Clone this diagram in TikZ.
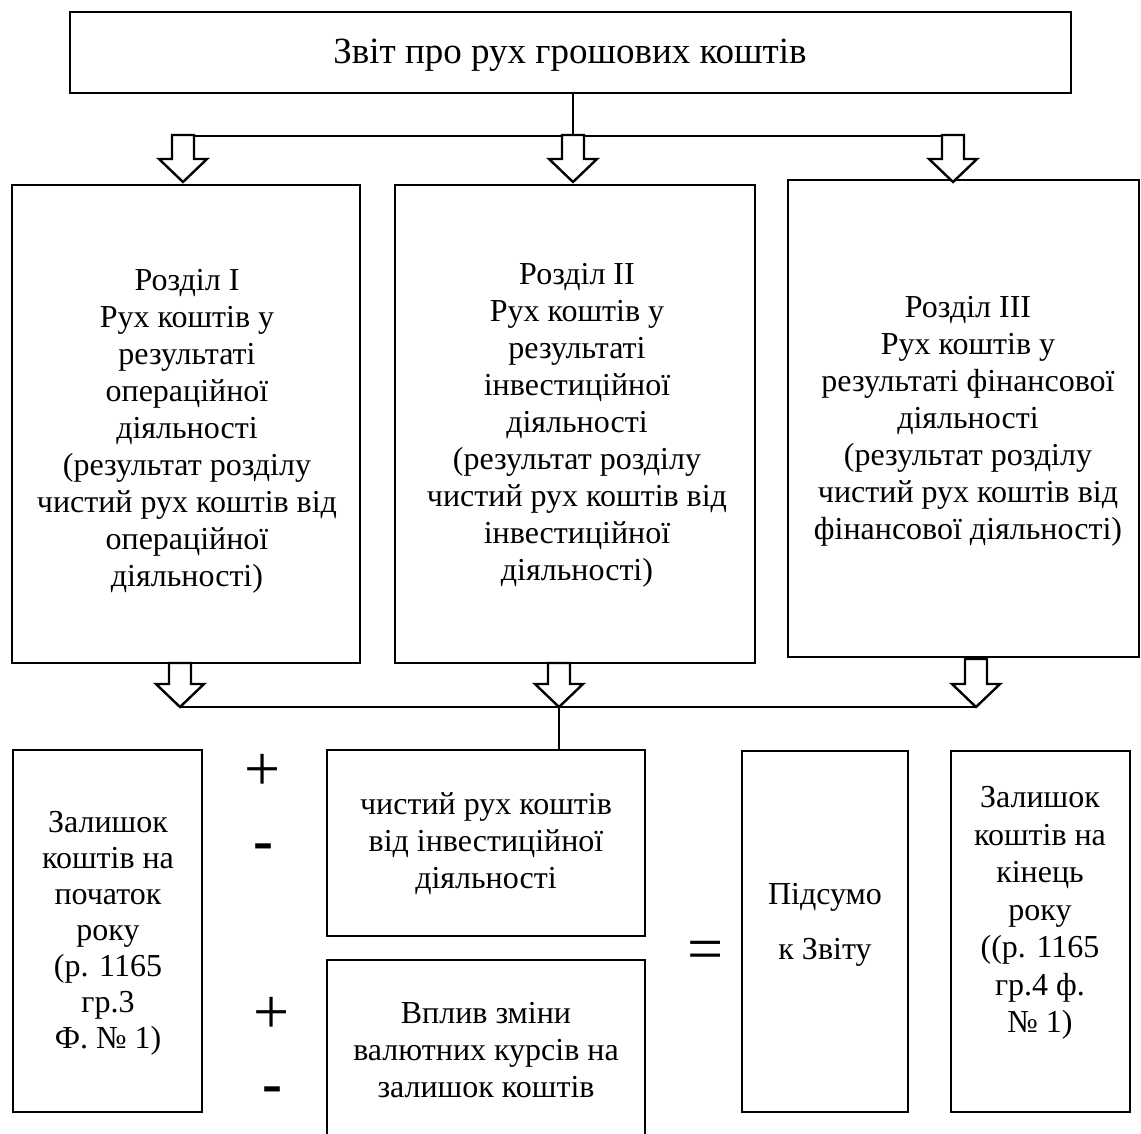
\documentclass[tikz,border=0pt]{standalone}
\usepackage{fontspec}
\setmainfont{Liberation Serif}
\begin{document}
\begin{tikzpicture}[x=1pt,y=-1pt,
  boxline/.style={line width=2.4pt},
  box/.style={draw, boxline, rectangle, inner sep=0pt},
  txt/.style={align=center, inner sep=0pt, font=\fontsize{32}{37}\selectfont},
  conn/.style={line width=2.2pt},
  arrowline/.style={line width=2.4pt, line join=miter, fill=white},
  sign/.style={inner sep=0pt, font=\fontsize{64}{64}\selectfont},
  minus/.style={inner sep=0pt, font=\fontsize{60}{60}\selectfont\bfseries},
  darrow/.pic={\draw[arrowline] (-11,-\arrlen) -- (-11,-23) -- (-24,-23) -- (0,0) -- (24,-23) -- (11,-23) -- (11,-\arrlen) -- cycle;}
]
\useasboundingbox (0,0) rectangle (1141,1133);

% boxes
\node[box, minimum width=1001pt, minimum height=81pt] (top) at (570.5,52.5) {};
\node[box, minimum width=348pt, minimum height=478pt] (s1) at (186,424) {};
\node[box, minimum width=360pt, minimum height=478pt] (s2) at (575,424) {};
\node[box, minimum width=351pt, minimum height=477pt] (s3) at (963.5,418.5) {};
\node[box, minimum width=189pt, minimum height=362pt] (bA) at (107.5,931) {};
\node[box, minimum width=318pt, minimum height=186pt] (bB) at (486,843) {};
\node[inner sep=0pt, minimum width=318pt, minimum height=190pt] (bC) at (486,1055) {};
\draw[boxline] (bC.south west) |- (bC.north east) -- (bC.south east);
\node[box, minimum width=166pt, minimum height=361pt] (bD) at (825,931.5) {};
\node[box, minimum width=179pt, minimum height=361pt] (bE) at (1040.5,931.5) {};

% texts
\node[txt, font=\fontsize{37}{42}\selectfont] (ttl) at (570,55) {Звіт про рух грошових коштів};
\node[txt] (t1) at (187,431) {Розділ I\\Рух коштів у\\результаті\\операційної\\діяльності\\(результат розділу\\чистий рух коштів від\\операційної\\діяльності)};
\node[txt] (t2) at (577,425) {Розділ II\\Рух коштів у\\результаті\\інвестиційної\\діяльності\\(результат розділу\\чистий рух коштів від\\інвестиційної\\діяльності)};
\node[txt] (t3) at (968,421) {Розділ III\\Рух коштів у\\результаті фінансової\\діяльності\\(результат розділу\\чистий рух коштів від\\фінансової діяльності)};
\node[txt, font=\fontsize{32}{36}\selectfont] (tA) at (108,933) {Залишок\\коштів на\\початок\\року\\(р. 1165\\гр.3\\Ф. № 1)};
\node[txt] (tB) at (486,844) {чистий рух коштів\\від інвестиційної\\діяльності};
\node[txt] (tC) at (486,1050) {Вплив зміни\\валютних курсів на\\залишок коштів};
\node[txt, font=\fontsize{32}{55}\selectfont] (tD) at (825,925) {Підсумо\\к Звіту};
\node[txt, font=\fontsize{32}{37.5}\selectfont] (tE) at (1040,913) {Залишок\\коштів на\\кінець\\року\\((р. 1165\\гр.4 ф.\\№ 1)};

% signs
\node[sign] (p1) at (263,772) {+};
\node[minus] (m1) at (263,852) {-};
\node[sign] (p2) at (272,1015) {+};
\node[minus] (m2) at (272,1095) {-};
\node[sign] (eq) at (706,956) {=};

% top arrows
\def\arrlen{47}
\coordinate (a1) at (183,182);
\coordinate (a2) at (573,182);
\coordinate (a3) at (953,182);
\coordinate (a1t) at (183,136);
\coordinate (a2t) at (573,136);
\coordinate (a3t) at (953,136);
\draw[conn] (a2t |- top.south) -- (a2t);
\draw[conn] (a1t) -- ([xshift=9pt]a3t);
\pic at (a1) {darrow};
\pic at (a2) {darrow};
\pic at (a3) {darrow};

% bottom arrows
\coordinate (b1) at (180,707);
\coordinate (b2) at (559,707);
\coordinate (b3) at (976,707);
\draw[conn] (b1) -- (b3);
\draw[conn] (b2) -- (b2 |- bB.north);
\def\arrlen{44}
\pic at (b1) {darrow};
\pic at (b2) {darrow};
\def\arrlen{48}
\pic at (b3) {darrow};
\end{tikzpicture}
\end{document}
